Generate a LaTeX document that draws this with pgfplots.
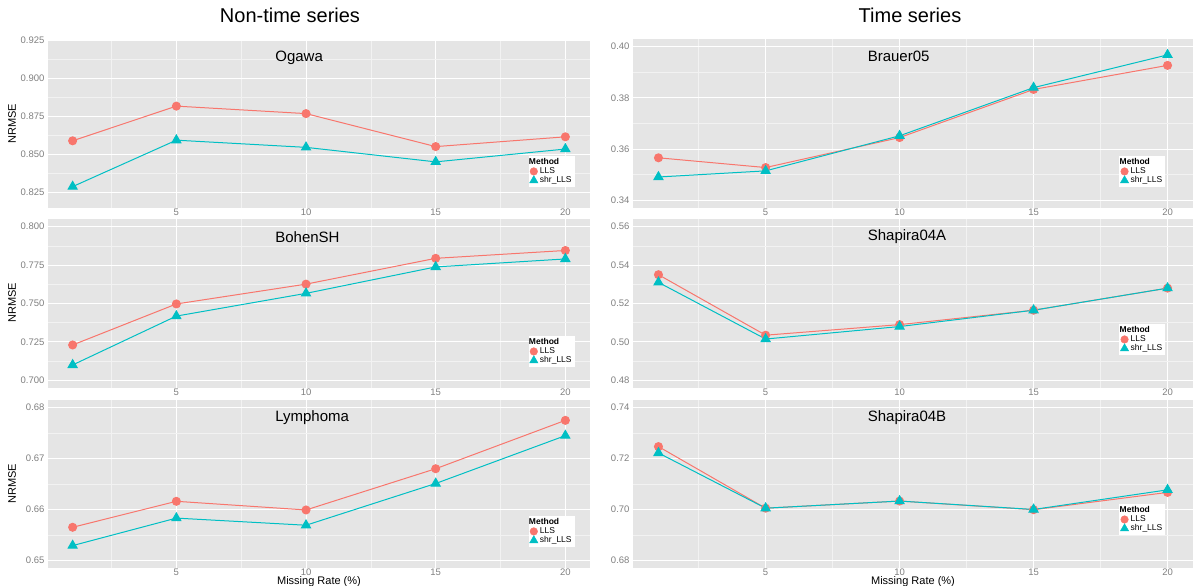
\documentclass[border=0pt]{standalone}
\usepackage{pgfplots}
\pgfplotsset{compat=1.18}
\usepackage{fontspec}
\setmainfont{Liberation Sans}
\definecolor{llsred}{HTML}{F8766D}
\definecolor{shrteal}{HTML}{00BFC4}
\definecolor{bggray}{HTML}{E5E5E5}
\definecolor{minorgrid}{HTML}{F2F2F2}
\definecolor{tickgray}{HTML}{7F7F7F}

\pgfplotstableread{
x   lls     shr
1   0.8590  0.8290
5   0.8817  0.8594
10  0.8768  0.8547
15  0.8552  0.8452
20  0.8616  0.8536
}\ogawa
\pgfplotstableread{
x   lls     shr
1   0.7230  0.7100
5   0.7497  0.7418
10  0.7626  0.7566
15  0.7794  0.7738
20  0.7845  0.7790
}\bohen
\pgfplotstableread{
x   lls     shr
1   0.6565  0.6529
5   0.6616  0.6583
10  0.6599  0.6569
15  0.6680  0.6651
20  0.6775  0.6745
}\lymph
\pgfplotstableread{
x   lls     shr
1   0.3566  0.3491
5   0.3528  0.3515
10  0.3645  0.3652
15  0.3833  0.3840
20  0.3927  0.3968
}\brauer
\pgfplotstableread{
x   lls     shr
1   0.5350  0.5310
5   0.5035  0.5015
10  0.5090  0.5080
15  0.5165  0.5165
20  0.5280  0.5280
}\shapA
\pgfplotstableread{
x   lls     shr
1   0.7247  0.7222
5   0.7005  0.7005
10  0.7033  0.7033
15  0.6999  0.7000
20  0.7067  0.7077
}\shapB

\pgfplotsset{
  panel/.style={
    scale only axis, anchor=south west,
    xmin=0.05, xmax=20.95,
    xtick={5,10,15,20},
    minor xtick={2.5,7.5,12.5,17.5},
    axis background/.style={fill=bggray},
    axis line style={draw=none},
    major tick length=0pt, minor tick length=0pt,
    grid=both,
    major grid style={white, line width=0.9pt},
    minor grid style={minorgrid, line width=0.5pt},
    tick label style={font=\fontsize{9.5}{11}\selectfont, text=tickgray},
    xticklabel style={inner sep=0pt, yshift=-1pt},
    /pgf/number format/assume math mode=true,
    legend cell align=left,
    legend image code/.code={\draw[mark repeat=2,mark phase=2,##1] plot coordinates {(0cm,0cm) (0.15cm,0cm) (0.30cm,0cm)};},
    clip=false,
  },
  prec/.style={yticklabel style={/pgf/number format/.cd, fixed, fixed zerofill, precision=#1}},
  leftcol/.style={panel, width=542pt, prec=3},
  rightcol/.style={panel, width=560pt, prec=2},
  mylegend/.style={legend style={at={(rel axis cs:#1)}, anchor=south east,
    draw=none, fill=white, font=\fontsize{8.5}{9}\selectfont,
    inner xsep=1pt, inner ysep=0.5pt, row sep=-2.5pt,
    /tikz/every even column/.append style={column sep=0.3pt}}},
  lls/.style={color=llsred, line width=1pt, mark=*, mark size=4pt, mark options={solid, fill=llsred, draw=llsred}},
  shr/.style={color=shrteal, line width=1pt, mark=triangle*, mark size=5.2pt, mark options={solid, fill=shrteal, draw=shrteal}},
}
\newcommand{\paneltitle}[1]{\node[anchor=west, font=\fontsize{15}{17}\selectfont] at (rel axis cs:0.413,0.895) {#1};}
\newcommand{\panelcontent}[1]{%
  \addplot[lls, forget plot] table[x=x, y=lls] {#1};
  \addplot[shr, forget plot] table[x=x, y=shr] {#1};
  \addlegendimage{empty legend}\addlegendentry{\hspace*{-11pt}\textbf{Method}}
  \addlegendimage{only marks, mark=*, mark size=3.8pt, color=llsred, fill=llsred}\addlegendentry{LLS}
  \addlegendimage{only marks, mark=triangle*, mark size=4.8pt, color=shrteal, fill=shrteal}\addlegendentry{shr\_LLS}
}

\begin{document}
\begin{tikzpicture}[x=1pt,y=1pt]
\path[use as bounding box] (0pt,0pt) rectangle (1200pt,586pt);

% Left column
\begin{axis}[leftcol, at={(48pt,378pt)}, height=168pt,
  ymin=0.815, ymax=0.925,
  ytick={0.825,0.850,0.875,0.900,0.925},
  minor ytick={0.8375,0.8625,0.8875,0.9125},
  mylegend={0.972,0.125}]
\panelcontent{\ogawa}
\paneltitle{Ogawa}
\end{axis}

\begin{axis}[leftcol, at={(48pt,198pt)}, height=169pt,
  ymin=0.695, ymax=0.805,
  ytick={0.700,0.725,0.750,0.775,0.800},
  minor ytick={0.7125,0.7375,0.7625,0.7875},
  mylegend={0.972,0.124}]
\panelcontent{\bohen}
\paneltitle{BohenSH}
\end{axis}

\begin{axis}[leftcol, prec=2, at={(48pt,18pt)}, height=168pt,
  ymin=0.6485, ymax=0.6815,
  ytick={0.65,0.66,0.67,0.68},
  minor ytick={0.655,0.665,0.675},
  mylegend={0.972,0.125}]
\panelcontent{\lymph}
\paneltitle{Lymphoma}
\end{axis}

% Right column
\begin{axis}[rightcol, at={(633pt,378pt)}, height=169pt,
  ymin=0.337, ymax=0.403,
  ytick={0.34,0.36,0.38,0.40},
  minor ytick={0.35,0.37,0.39},
  mylegend={0.951,0.124}]
\panelcontent{\brauer}
\paneltitle{Brauer05}
\end{axis}

\begin{axis}[rightcol, at={(633pt,198pt)}, height=169pt,
  ymin=0.476, ymax=0.564,
  ytick={0.48,0.50,0.52,0.54,0.56},
  minor ytick={0.49,0.51,0.53,0.55},
  mylegend={0.951,0.195}]
\panelcontent{\shapA}
\paneltitle{Shapira04A}
\end{axis}

\begin{axis}[rightcol, at={(633pt,18pt)}, height=168pt,
  ymin=0.677, ymax=0.743,
  ytick={0.68,0.70,0.72,0.74},
  minor ytick={0.69,0.71,0.73},
  mylegend={0.951,0.196}]
\panelcontent{\shapB}
\paneltitle{Shapira04B}
\end{axis}

% Titles and labels
\node[font=\fontsize{20}{22}\selectfont] at (290pt,571pt) {Non-time series};
\node[font=\fontsize{20}{22}\selectfont] at (910pt,571pt) {Time series};
\node[font=\fontsize{11}{13}\selectfont, inner sep=0pt, anchor=base] at (319pt,1.8pt) {Missing Rate (\%)};
\node[font=\fontsize{11}{13}\selectfont, inner sep=0pt, anchor=base] at (913pt,1.8pt) {Missing Rate (\%)};
\node[rotate=90, font=\fontsize{11}{13}\selectfont] at (12pt,462pt) {NRMSE};
\node[rotate=90, font=\fontsize{11}{13}\selectfont] at (12pt,283pt) {NRMSE};
\node[rotate=90, font=\fontsize{11}{13}\selectfont] at (12pt,102pt) {NRMSE};
\end{tikzpicture}
\end{document}
